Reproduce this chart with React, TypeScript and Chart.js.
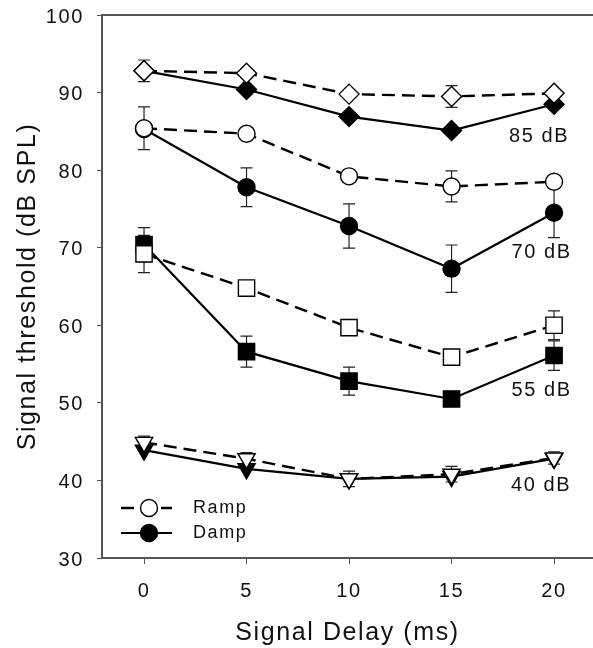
import React, { useEffect, useRef } from 'react';
import { Chart, registerables } from 'chart.js';

Chart.register(...registerables);

const FONT = '"Liberation Sans", Arial, Helvetica, sans-serif';
const SPACING = '1.6px';

// ---- data ----
const delays = [0, 5, 10, 15, 20];
const xTicks = [0, 5, 10, 15, 20];
const yTicks = [30, 40, 50, 60, 70, 80, 90, 100];

const ramp85 = [92.8, 92.5, 89.8, 89.5, 89.9];
const damp85 = [92.8, 90.4, 86.9, 85.1, 88.5];
const ramp70 = [85.4, 84.7, 79.2, 77.9, 78.5];
const damp70 = [85.3, 77.8, 72.8, 67.3, 74.5];
const ramp55 = [69.2, 64.8, 59.7, 55.9, 60.0];
const damp55 = [70.4, 56.6, 52.8, 50.5, 56.1];
const ramp40 = [44.9, 42.8, 40.2, 40.8, 42.9];
const damp40 = [43.9, 41.5, 40.2, 40.5, 42.8];

const ramp85Err = [1.4, 0, 0, 1.4, 0];
const damp85Err = [0, 0, 0, 0, 0];
const ramp70Err = [2.75, 0, 0, 2.0, 0];
const damp70Err = [0, 2.5, 2.85, 3.05, 3.2];
const ramp55Err = [2.4, 0, 0, 0, 1.85];
const damp55Err = [2.2, 2.0, 1.8, 0, 1.9];
const ramp40Err = [0.8, 0.8, 1.0, 1.0, 0.8];
const damp40Err = [0, 0, 0, 0, 0];

const levelLabels = ['85 dB', '70 dB', '55 dB', '40 dB'];
const levelLabelX = [17.8, 17.92, 17.92, 17.9];
const levelLabelY = [84.3, 69.4, 51.6, 39.3];

const legendLabels = ['Ramp', 'Damp'];

const xTitle = 'Signal Delay (ms)';
const yTitle = 'Signal threshold (dB SPL)';

// ---- helpers ----
const pts = (arr: number[]) => delays.map((d, i) => ({ x: d, y: arr[i] }));

const DASH = [13, 7];

function makeSet(
  label: string,
  values: number[],
  errors: number[],
  ramp: boolean,
  style: string,
  radius: number,
  rotation = 0
) {
  return {
    label,
    data: pts(values),
    errors,
    order: ramp ? 0 : 1,
    borderColor: '#000',
    borderWidth: ramp ? 2.4 : 2.2,
    borderDash: ramp ? DASH : [],
    backgroundColor: ramp ? '#fff' : '#000',
    pointStyle: style,
    pointRadius: radius,
    pointRotation: rotation,
    pointBorderWidth: 1.4,
    pointBorderColor: '#000',
    pointBackgroundColor: ramp ? '#fff' : '#000',
    fill: false,
    tension: 0,
  };
}

const setSpacing = (chart: any) => {
  try {
    chart.ctx.letterSpacing = SPACING;
  } catch (e) {}
};

const zeroPad = (scale: any) => {
  scale.paddingLeft = 0;
  scale.paddingRight = 0;
  scale.paddingTop = 0;
  scale.paddingBottom = 0;
};

const customPlugin = {
  id: 'customDraw',
  beforeUpdate: setSpacing,
  beforeLayout: setSpacing,
  beforeDraw: setSpacing,
  afterLayout(chart: any) {
    // let the plot area run to the right edge of the canvas, as in the reference
    const ca = chart.chartArea;
    const W = chart.width;
    ca.right = W;
    ca.width = W - ca.left;
    const xs = chart.scales.x;
    xs.right = W;
    xs.width = W - xs.left;
    xs.configure();
  },
  beforeDatasetsDraw(chart: any) {
    const ctx = chart.ctx;
    const ys = chart.scales.y;
    ctx.save();
    ctx.strokeStyle = '#222';
    ctx.lineWidth = 1.2;
    chart.data.datasets.forEach((ds: any, i: number) => {
      const errs: number[] = ds.errors;
      if (!errs) return;
      const meta = chart.getDatasetMeta(i);
      meta.data.forEach((pt: any, j: number) => {
        const e = errs[j];
        if (!e) return;
        const v = ds.data[j].y;
        const x = pt.x;
        const y1 = ys.getPixelForValue(v + e);
        const y2 = ys.getPixelForValue(v - e);
        ctx.beginPath();
        ctx.moveTo(x, y1);
        ctx.lineTo(x, y2);
        ctx.moveTo(x - 6, y1);
        ctx.lineTo(x + 6, y1);
        ctx.moveTo(x - 6, y2);
        ctx.lineTo(x + 6, y2);
        ctx.stroke();
      });
    });
    ctx.restore();
  },
  afterDraw(chart: any) {
    const ctx = chart.ctx;
    const { left, right, top, bottom } = chart.chartArea;
    const xs = chart.scales.x;
    const ys = chart.scales.y;
    ctx.save();
    ctx.letterSpacing = SPACING;
    // top frame line
    ctx.strokeStyle = '#555';
    ctx.lineWidth = 2;
    ctx.beginPath();
    ctx.moveTo(left - 1, top);
    ctx.lineTo(right + 2, top);
    ctx.stroke();

    // level labels
    ctx.fillStyle = '#111';
    ctx.font = `20px ${FONT}`;
    ctx.textAlign = 'left';
    ctx.textBaseline = 'middle';
    levelLabels.forEach((t, i) => {
      ctx.fillText(t, xs.getPixelForValue(levelLabelX[i]), ys.getPixelForValue(levelLabelY[i]));
    });

    // legend
    const rows = [bottom - 50, bottom - 25];
    legendLabels.forEach((t, i) => {
      const y = rows[i];
      const ramp = i === 0;
      ctx.strokeStyle = '#000';
      ctx.lineWidth = ramp ? 2.4 : 2.2;
      ctx.setLineDash(ramp ? DASH : []);
      ctx.beginPath();
      ctx.moveTo(left + 19, y);
      ctx.lineTo(left + 70, y);
      ctx.stroke();
      ctx.setLineDash([]);
      ctx.beginPath();
      ctx.arc(left + 47, y, 8.5, 0, Math.PI * 2);
      ctx.fillStyle = ramp ? '#fff' : '#000';
      ctx.fill();
      ctx.lineWidth = 1.4;
      ctx.stroke();
      ctx.fillStyle = '#111';
      ctx.font = `18px ${FONT}`;
      ctx.textAlign = 'left';
      ctx.textBaseline = 'middle';
      ctx.fillText(t, left + 91, y);
    });
    ctx.restore();
  },
};

export default function App() {
  const ref = useRef<HTMLCanvasElement | null>(null);

  useEffect(() => {
    if (!ref.current) return;
    document.documentElement.style.overflow = 'hidden';
    document.body.style.overflow = 'hidden';
    Chart.defaults.font.family = FONT;
    Chart.defaults.color = '#111';
    const datasets: any[] = [
      makeSet('Ramp 85', ramp85, ramp85Err, true, 'rectRot', 10),
      makeSet('Damp 85', damp85, damp85Err, false, 'rectRot', 10),
      makeSet('Ramp 70', ramp70, ramp70Err, true, 'circle', 8.5),
      makeSet('Damp 70', damp70, damp70Err, false, 'circle', 8.5),
      makeSet('Ramp 55', ramp55, ramp55Err, true, 'rect', 11.5),
      makeSet('Damp 55', damp55, damp55Err, false, 'rect', 11.5),
      makeSet('Ramp 40', ramp40, ramp40Err, true, 'triangle', 10, 180),
      makeSet('Damp 40', damp40, damp40Err, false, 'triangle', 10, 180),
    ];

    const chart = new Chart(ref.current, {
      type: 'line',
      data: { datasets },
      options: {
        responsive: false,
        animation: false,
        devicePixelRatio: 1,
        layout: { padding: { top: 15, left: 0, right: 0, bottom: 0 } },
        plugins: {
          legend: { display: false },
          tooltip: { enabled: false },
        },
        scales: {
          x: {
            type: 'linear',
            position: 'bottom',
            min: -2.05,
            max: 21.9,
            afterBuildTicks: (scale: any) => {
              scale.ticks = xTicks.map((v) => ({ value: v }));
            },
            afterFit: (scale: any) => {
              scale.height = 90;
              zeroPad(scale);
            },
            grid: {
              display: true,
              drawOnChartArea: false,
              drawTicks: true,
              tickLength: 6,
              color: '#555',
              lineWidth: 1,
            },
            border: { display: true, color: '#555', width: 2 },
            ticks: {
              padding: 15,
              font: { size: 20, family: FONT },
              color: '#111',
              maxRotation: 0,
            },
            title: {
              display: true,
              text: xTitle,
              font: { size: 25, family: FONT },
              color: '#111',
              padding: { top: 0, bottom: 0 },
            },
          },
          y: {
            type: 'linear',
            min: 30,
            max: 100,
            afterBuildTicks: (scale: any) => {
              scale.ticks = yTicks.map((v) => ({ value: v }));
            },
            afterFit: (scale: any) => {
              scale.width = 102;
              zeroPad(scale);
            },
            grid: {
              display: true,
              drawOnChartArea: false,
              drawTicks: true,
              tickLength: 5,
              color: '#555',
              lineWidth: 1,
            },
            border: { display: true, color: '#555', width: 2 },
            ticks: {
              padding: 13,
              labelOffset: 2,
              font: { size: 20, family: FONT },
              color: '#111',
            },
            title: {
              display: true,
              text: yTitle,
              font: { size: 25, family: FONT },
              color: '#111',
              padding: { top: 13, bottom: 0 },
            },
          },
        },
      },
      plugins: [customPlugin],
    } as any);

    return () => chart.destroy();
  }, []);

  return (
    <div style={{ position: 'absolute', left: 0, top: 0, width: 593, height: 648, background: '#fff' }}>
      <canvas ref={ref} width={593} height={648} style={{ display: 'block' }} />
    </div>
  );
}
